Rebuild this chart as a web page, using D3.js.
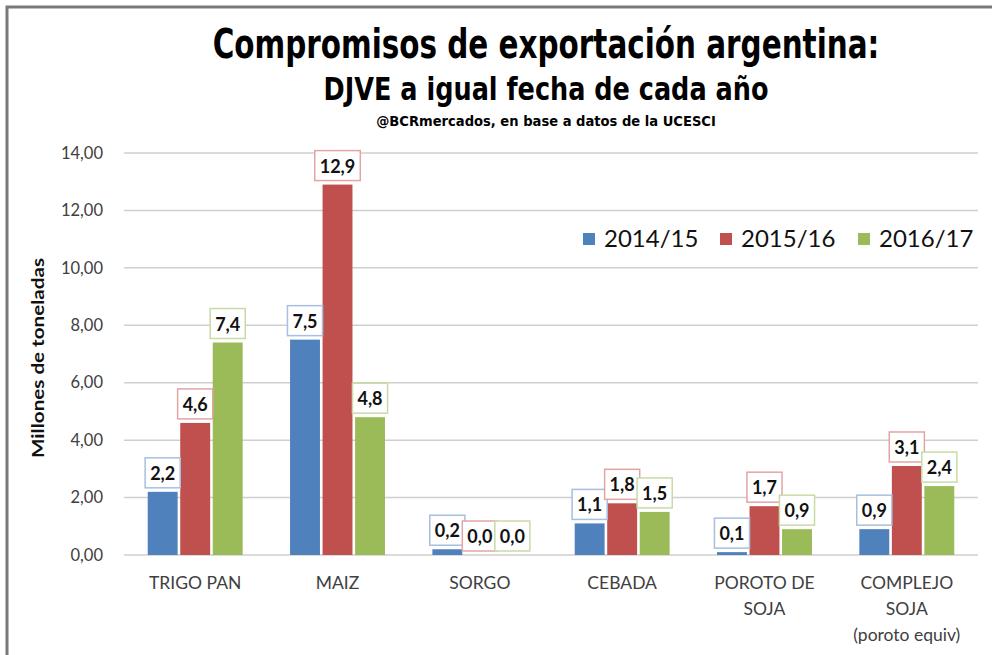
<!DOCTYPE html>
<html>
<head>
<meta charset="utf-8">
<script src="https://cdn.jsdelivr.net/npm/d3@7"></script>
<style>
  body { margin: 0; background: #fff; }
</style>
</head>
<body>
<div id="chart-area"></div>
<script>
const categories = [["TRIGO PAN"], ["MAIZ"], ["SORGO"], ["CEBADA"], ["POROTO DE", "SOJA"], ["COMPLEJO", "SOJA", "(poroto equiv)"]];
const seriesNames = ["2014/15", "2015/16", "2016/17"];
const v1415 = [2.2, 7.5, 0.2, 1.1, 0.1, 0.9];
const v1516 = [4.6, 12.9, 0.0, 1.8, 1.7, 3.1];
const v1617 = [7.4, 4.8, 0.0, 1.5, 0.9, 2.4];
const yTicks = [0, 2, 4, 6, 8, 10, 12, 14];

const barColors = ["#4f81bd", "#c0504d", "#9bbb59"];
const boxColors = ["#a7bfe0", "#e3a5a4", "#c8dba6"];

const W = 992, H = 655;
const margin = { left: 124, right: 14, top: 153, bottom: 100 };
const width = W - margin.left - margin.right,
  height = H - margin.top - margin.bottom;

const values = [v1415, v1516, v1617];
const rows = categories.map((c, i) => ({ cat: c.join(" "), lines: c, vals: values.map(s => s[i]) }));

const svg = d3.select('#chart-area')
  .append('svg')
  .attr('width', W)
  .attr('height', H)
  .style("font-family", "Lato, 'Open Sans', sans-serif");

// frame
svg.append("path")
  .attr("d", `M7,${H + 5} V7 H${W + 5}`)
  .attr("fill", "none")
  .attr("stroke", "#7a7a7a")
  .attr("stroke-width", 3);

// titles - squeezed horizontally to the reference widths
const cond = "'Liberation Sans Narrow', 'DejaVu Sans Condensed', 'Roboto Condensed', sans-serif";
const titles = [
  { t: "Compromisos de exportación argentina:", y: 58, s: 40, w: 667 },
  { t: "DJVE a igual fecha de cada año", y: 100, s: 32, w: 445 },
  { t: "@BCRmercados, en base a datos de la UCESCI", y: 126, s: 14, w: 340 }
];
const tg = svg.selectAll(".title")
  .data(titles)
  .join("g")
  .attr("class", "title");
tg.append("text")
  .attr("text-anchor", "middle")
  .attr("font-family", cond)
  .attr("font-weight", "bold")
  .attr("font-size", d => d.s)
  .attr("fill", "#000")
  .text(d => d.t);
tg.each(function(d) {
  const tw = d3.select(this).select("text").node().getComputedTextLength();
  d3.select(this).attr("transform", `translate(546, ${d.y}) scale(${d.w / tw}, 1)`);
});

const g = svg.append('g')
  .attr('transform', `translate(${margin.left}, ${margin.top})`);

const x0 = d3.scaleBand()
  .domain(rows.map(d => d.cat))
  .range([0, width])
  .paddingInner(0.333)
  .paddingOuter(0.1667);

const x1 = d3.scaleBand()
  .domain(d3.range(seriesNames.length))
  .range([0, x0.bandwidth()])
  .paddingInner(0.08);

const y = d3.scaleLinear().domain([0, 14]).range([height, 0]);

// gridlines
g.selectAll(".grid")
  .data(yTicks)
  .join("line")
  .attr("class", "grid")
  .attr("x1", 0)
  .attr("x2", width)
  .attr("y1", d => y(d))
  .attr("y2", d => y(d))
  .attr("stroke", "#cfcfcf")
  .attr("stroke-width", 1.5);

// y tick labels
const fmt2 = d => d3.format(".2f")(d).replace(".", ",");
g.selectAll(".ytick")
  .data(yTicks)
  .join("text")
  .attr("class", "ytick")
  .attr("x", -21)
  .attr("y", d => y(d))
  .attr("dy", "0.35em")
  .attr("text-anchor", "end")
  .attr("font-size", 16.5)
  .attr("fill", "#404040")
  .text(fmt2);

// y axis title
svg.append("text")
  .attr("transform", "translate(44, 358) rotate(-90)")
  .attr("text-anchor", "middle")
  .attr("font-size", 17)
  .attr("font-weight", "bold")
  .attr("fill", "#111")
  .attr("textLength", 200)
  .attr("lengthAdjust", "spacingAndGlyphs")
  .text("Millones de toneladas");

// bars
const groups = g.selectAll(".grp")
  .data(rows)
  .join("g")
  .attr("class", "grp")
  .attr("transform", d => `translate(${x0(d.cat)},0)`);

groups.selectAll("rect")
  .data(d => d.vals.map((v, i) => ({ v, i })))
  .join("rect")
  .attr("x", d => x1(d.i))
  .attr("y", d => y(d.v))
  .attr("width", x1.bandwidth())
  .attr("height", d => y(0) - y(d.v))
  .attr("fill", d => barColors[d.i]);

// data labels with boxes
const fmt1 = d => d3.format(".1f")(d).replace(".", ",");
const lbl = groups.selectAll(".lbl")
  .data(d => d.vals.map((v, i) => ({ v, i })))
  .join("g")
  .attr("class", "lbl");

lbl.append("rect").attr("class", "box");
lbl.append("text")
  .attr("x", d => x1(d.i) + x1.bandwidth() / 2)
  .attr("y", d => y(d.v) - 12)
  .attr("text-anchor", "middle")
  .attr("font-size", 18)
  .attr("font-weight", "bold")
  .attr("fill", "#111")
  .text(d => fmt1(d.v));

lbl.each(function(d) {
  const tw = d3.select(this).select("text").node().getComputedTextLength();
  const bw = tw + 10, cx = x1(d.i) + x1.bandwidth() / 2;
  d3.select(this).select("rect")
    .attr("x", cx - bw / 2)
    .attr("y", y(d.v) - 34)
    .attr("width", bw)
    .attr("height", 30)
    .attr("fill", "#fff")
    .attr("stroke", boxColors[d.i])
    .attr("stroke-width", 1.5);
});

// category labels
groups.append("text")
  .attr("x", x0.bandwidth() / 2)
  .attr("text-anchor", "middle")
  .attr("font-size", 17.5)
  .attr("fill", "#404040")
  .selectAll("tspan")
  .data(d => d.lines)
  .join("tspan")
  .attr("x", x0.bandwidth() / 2)
  .attr("y", (d, i) => height + 34 + i * 26)
  .text(d => d);

// legend
const legend = svg.append("g")
  .attr("transform", "translate(583, 239)");
const legX = [0, 137, 275];
const li = legend.selectAll(".leg")
  .data(seriesNames)
  .join("g")
  .attr("class", "leg")
  .attr("transform", (d, i) => `translate(${legX[i]},0)`);
li.append("rect")
  .attr("x", 0)
  .attr("y", -6)
  .attr("width", 12)
  .attr("height", 12)
  .attr("fill", (d, i) => barColors[i]);
li.append("text")
  .attr("x", 21)
  .attr("dy", "0.35em")
  .attr("font-size", 24)
  .attr("fill", "#111")
  .text(d => d);
</script>
</body>
</html>
